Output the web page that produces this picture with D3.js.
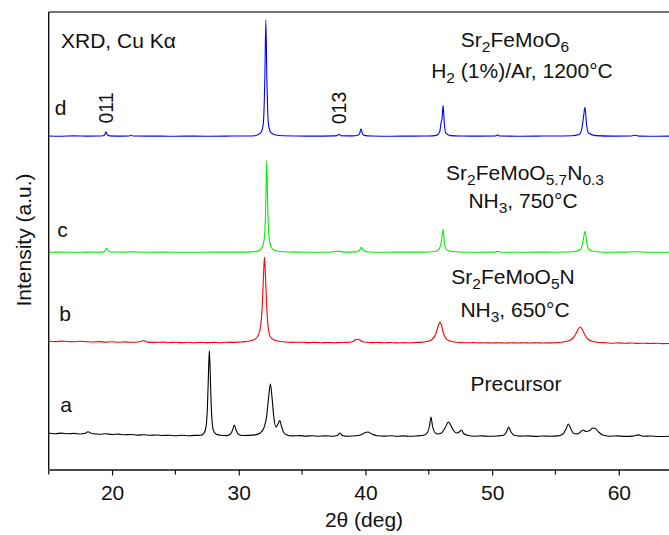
<!DOCTYPE html>
<html>
<head>
<meta charset="utf-8">
<script src="https://cdn.jsdelivr.net/npm/d3@7"></script>
<style>
  body { margin: 0; background: #fff; }
  text { font-family: "Liberation Sans", Arial, sans-serif; fill: #111; }
</style>
</head>
<body>
<div id="chart"></div>
<script>
// 2theta (deg) vs intensity above each pattern's own baseline (a.u.)
const precursor = [[15,3.2],[15.5,2.8],[16,3.4],[16.5,2.7],[17,3.1],[17.5,2.5],[17.9,3.3],[18.1,4.8],[18.4,3.0],[19,2.3],[19.5,2.7],[20,2.0],[20.5,2.4],[21,1.7],[21.5,2.0],[22,1.4],[22.5,1.8],[23,1.2],[23.5,1.5],[24,1.0],[24.5,1.3],[25,0.8],[25.5,1.2],[26,0.7],[26.5,1.1],[27,1.2],[27.2,2.5],[27.35,6],[27.45,13],[27.53,30],[27.6,58],[27.68,86],[27.76,58],[27.83,30],[27.91,13],[28.0,6],[28.2,2.6],[28.6,1.2],[29.0,0.9],[29.3,2],[29.5,6],[29.65,11.5],[29.8,6],[30.0,2],[30.3,1.0],[30.8,1.1],[31.3,1.6],[31.7,3.5],[32.0,9],[32.2,20],[32.35,38],[32.5,52.5],[32.62,40],[32.78,18],[32.95,9.5],[33.1,12.5],[33.24,16],[33.38,10],[33.55,4],[33.8,1.5],[34.2,0.6],[34.8,0.9],[35.3,0.4],[35.8,0.8],[36.3,0.3],[36.8,0.6],[37.4,0.3],[37.8,1.3],[37.98,3.5],[38.2,0.8],[38.7,0.3],[39.2,0.7],[39.7,2.0],[40.0,4.0],[40.2,4.5],[40.5,2.5],[40.9,0.8],[41.5,0.4],[42,0.7],[42.5,0.2],[43,0.6],[43.5,0.2],[44,0.5],[44.6,1.2],[44.9,4],[45.05,10],[45.17,19.5],[45.3,10],[45.45,4.5],[45.7,2.5],[46.0,3.5],[46.3,9],[46.55,14.5],[46.7,12],[46.95,6],[47.2,3.5],[47.45,5],[47.58,6.5],[47.75,3],[48.1,1.0],[48.6,0.3],[49.2,0.6],[49.8,0.2],[50.4,0.5],[50.9,1.2],[51.15,5],[51.3,9.5],[51.47,5],[51.75,1.2],[52.2,0.4],[52.8,0.6],[53.4,0.1],[54,0.5],[54.6,0.2],[55.2,0.6],[55.6,2.5],[55.85,8],[56.02,12.5],[56.2,8],[56.45,3],[56.75,2.6],[57.05,5.5],[57.2,6.5],[57.4,5],[57.7,6],[57.95,8.5],[58.15,8],[58.4,4.5],[58.8,1.2],[59.3,0.3],[59.9,0.6],[60.5,0.1],[61.1,0.4],[61.55,1.6],[61.9,0.3],[62.5,0.5],[63.2,0],[64,0.3]];
const nh3_650 = [[15,1.8],[15.5,1.4],[16,1.9],[16.5,1.5],[17,1.2],[17.5,1.7],[18,1.3],[18.5,1.0],[19,1.4],[19.5,0.9],[20,1.2],[20.5,0.8],[21,1.1],[21.5,0.7],[22,1.0],[22.5,2.2],[22.8,0.9],[23.3,0.6],[24,0.9],[24.5,0.5],[25,0.8],[25.5,0.4],[26,0.7],[26.5,0.3],[27,0.6],[27.5,0.4],[28,0.6],[28.5,0.3],[29,0.7],[29.5,0.6],[30,0.9],[30.5,1.4],[31,2.5],[31.3,4],[31.55,8],[31.72,16],[31.85,36],[31.95,66],[32.03,86],[32.11,66],[32.21,36],[32.34,14],[32.5,6],[32.8,3],[33.2,1.8],[33.7,1.0],[34.2,0.6],[35,0.8],[35.5,0.4],[36,0.6],[36.5,0.3],[37,0.5],[37.5,0.2],[38,0.5],[38.5,0.6],[39,1.6],[39.25,3.5],[39.45,3.8],[39.7,1.8],[40.1,0.7],[40.6,0.4],[41,0.6],[41.5,0.2],[42,0.5],[42.5,0.1],[43,0.4],[43.5,0.2],[44,0.5],[44.5,0.9],[45,2],[45.3,4],[45.55,9],[45.75,17],[45.88,21],[46.0,18],[46.15,10],[46.35,4.5],[46.6,2.2],[47,1.0],[47.5,0.4],[48,0.2],[48.5,0.4],[49,0.1],[49.5,0.3],[50,0],[50.5,0.2],[51,0],[51.5,0.3],[52,0],[52.5,0.2],[53,0],[53.5,0.2],[54,0],[54.5,0.1],[55,0.3],[55.5,0.8],[56,2],[56.35,4.5],[56.6,9],[56.8,14],[56.95,16],[57.1,14],[57.3,8.5],[57.55,4],[57.9,1.8],[58.3,0.8],[59,0.2],[59.5,-0.2],[60,0.1],[60.5,-0.3],[61,0],[61.5,-0.4],[62,-0.2],[62.5,-0.5],[63,-0.3],[63.5,-0.6],[64,-0.5]];
const nh3_750 = [[15,0],[16,0.2],[17,0],[18,0.2],[19,0.1],[19.35,0.4],[19.47,1.8],[19.58,4],[19.7,1.5],[19.9,0.3],[21,0.2],[21.5,0.4],[22.5,0.1],[24,0.2],[25.5,0],[27,0.1],[28.5,0.2],[30,0.2],[31,0.4],[31.5,1.2],[31.78,3.5],[31.95,9],[32.05,18],[32.13,46],[32.21,92],[32.29,46],[32.37,18],[32.47,9],[32.64,3.5],[33,1.3],[33.6,0.5],[34.5,0.2],[36,0.1],[37.4,0.3],[37.88,1.2],[38.2,0.2],[39.2,0.4],[39.52,1.8],[39.68,5],[39.85,1.5],[40.2,0.3],[41.5,0.1],[43,0.2],[44.5,0.2],[45.5,0.8],[45.82,3.5],[45.96,9],[46.03,14],[46.13,23],[46.23,10],[46.36,3.2],[46.8,0.8],[47.5,0.3],[49,0.1],[50.25,0.2],[50.45,0.9],[50.7,0.1],[52,0],[53.5,0.2],[55,0.1],[56.4,0.5],[56.95,2.5],[57.16,10],[57.33,21],[57.48,9],[57.66,2.5],[58.2,0.6],[59.5,0.1],[60.5,0.2],[61.3,0.5],[62.5,0],[64,0.1]];
const h2_1200 = [[15,0.2],[16,0],[17,0.3],[18,0.1],[19,0.2],[19.3,0.4],[19.43,1.6],[19.52,4.5],[19.62,1.5],[19.8,0.3],[20.8,0.1],[21.35,0.2],[21.5,1.0],[21.65,0.2],[23,0.1],[24.5,0],[26,0.1],[27.5,0],[29,0.1],[30.5,0.2],[31.3,0.5],[31.74,3.5],[31.9,9],[31.98,21],[32.06,58],[32.14,116],[32.22,58],[32.3,21],[32.38,9],[32.54,3.5],[32.9,1.2],[33.5,0.4],[34.5,0.2],[36,0.1],[37.4,0.3],[37.75,0.6],[37.9,2],[38.05,0.5],[39,0.3],[39.45,1.2],[39.56,3.5],[39.65,7.5],[39.75,3],[39.9,0.8],[40.5,0.2],[42,0],[43.5,0.1],[45,0.2],[45.6,0.8],[45.85,4],[45.98,14],[46.05,18],[46.13,31],[46.23,12],[46.35,3],[46.7,0.6],[47.5,0.2],[49,0.1],[50.25,0.2],[50.42,1.2],[50.6,0.2],[52,0],[53.5,0.1],[55,0.2],[56.3,0.4],[56.9,2],[57.1,9],[57.22,20],[57.33,29],[57.45,12],[57.62,3],[58.2,0.6],[59.5,0.1],[61,0.2],[61.3,1],[61.6,0.1],[63,0],[64,0.1]];

const patterns = [precursor, nh3_650, nh3_750, h2_1200];
const offsets = [33, 126.5, 217.2, 333.3];
const colors = ["#000000", "#ff0000", "#00ee00", "#0000ff"];
const letters = ["a", "b", "c", "d"];
const xTicks = [20, 30, 40, 50, 60];
const xMinorTicks = [15, 25, 35, 45, 55];

const width = 669, height = 535;
const plotLeft = 48.7, plotTop = 12, plotBottom = 469.5;
const fs = 21;

const svg = d3.select("#chart").append("svg")
    .attr("width", width)
    .attr("height", height);

const x = d3.scaleLinear().domain([15, 64]).range([plotLeft, 669.5]);
const y = d3.scaleLinear().domain([0, plotBottom - plotTop]).range([plotBottom, plotTop]);

// traces
const line = d3.line()
    .x(d => x(d[0]))
    .y(d => d.yv)
    .curve(d3.curveMonotoneX);

patterns.forEach(function(p, i) {
    const pts = p.map(d => { const o = [d[0], d[1]]; o.yv = y(d[1] + offsets[i]); return o; });
    svg.append("path")
        .attr("d", line(pts))
        .attr("fill", "none")
        .attr("stroke", colors[i])
        .attr("stroke-width", 1.1)
        .attr("stroke-linejoin", "round");
});

// axes
svg.append("line")
    .attr("x1", plotLeft).attr("x2", width)
    .attr("y1", plotTop).attr("y2", plotTop)
    .attr("stroke", "#444").attr("stroke-width", 1.4);
svg.append("line")
    .attr("x1", plotLeft).attr("x2", plotLeft)
    .attr("y1", plotTop).attr("y2", plotBottom)
    .attr("stroke", "#111").attr("stroke-width", 1.4);

const xAxis = svg.append("g")
    .attr("transform", "translate(0," + plotBottom + ")")
    .call(d3.axisBottom(x).tickValues(xTicks).tickSize(6).tickSizeOuter(0).tickPadding(10));
xAxis.select(".domain").attr("stroke", "#111").attr("stroke-width", 1.4);
xAxis.selectAll(".tick line").attr("stroke", "#111").attr("stroke-width", 1.2);
xAxis.selectAll(".tick text")
    .attr("font-size", fs)
    .attr("font-family", "Liberation Sans, Arial, sans-serif")
    .attr("fill", "#111");

xAxis.selectAll(".minor")
    .data(xMinorTicks)
    .enter().append("line")
    .attr("class", "minor")
    .attr("x1", d => x(d)).attr("x2", d => x(d))
    .attr("y1", 0).attr("y2", 5)
    .attr("stroke", "#111").attr("stroke-width", 1.2);

svg.append("text")
    .attr("x", 364).attr("y", 527)
    .attr("text-anchor", "middle")
    .attr("font-size", fs)
    .text("2θ (deg)");

svg.append("text")
    .attr("transform", "translate(31,240) rotate(-90)")
    .attr("text-anchor", "middle")
    .attr("font-size", fs)
    .text("Intensity (a.u.)");

// pattern letters
const letterPos = [[66, 411.5], [65, 320.5], [62.5, 236.5], [60.5, 114.5]];
letters.forEach(function(l, i) {
    svg.append("text")
        .attr("x", letterPos[i][0]).attr("y", letterPos[i][1])
        .attr("text-anchor", "middle")
        .attr("font-size", fs)
        .text(l);
});

svg.append("text")
    .attr("x", 61).attr("y", 48)
    .attr("font-size", fs)
    .text("XRD, Cu Kα");

// reflection labels
[["011", 19.52], ["013", 37.9]].forEach(function(r) {
    svg.append("text")
        .attr("transform", "translate(" + (x(r[1]) + 7.5) + ",108) rotate(-90)")
        .attr("text-anchor", "middle")
        .attr("font-size", 19.5)
        .text(r[0]);
});

// sample annotations: [text, isSubscript]
function rich(cx, by, parts) {
    const t = svg.append("text")
        .attr("x", cx).attr("y", by)
        .attr("text-anchor", "middle")
        .attr("font-size", fs);
    let shifted = false;
    parts.forEach(function(p) {
        const s = t.append("tspan").text(p[0]);
        if (p[1] && !shifted) { s.attr("dy", 5).attr("font-size", 15.5); shifted = true; }
        else if (p[1]) { s.attr("font-size", 15.5); }
        else if (shifted) { s.attr("dy", -5); shifted = false; }
    });
}

rich(515, 47, [["Sr"], ["2", 1], ["FeMoO"], ["6", 1]]);
rich(522, 78, [["H"], ["2", 1], [" (1%)/Ar, 1200°C"]]);
rich(525, 180, [["Sr"], ["2", 1], ["FeMoO"], ["5.7", 1], ["N"], ["0.3", 1]]);
rich(523, 208, [["NH"], ["3", 1], [", 750°C"]]);
rich(513, 283.5, [["Sr"], ["2", 1], ["FeMoO"], ["5", 1], ["N"]]);
rich(515, 316.5, [["NH"], ["3", 1], [", 650°C"]]);
rich(516, 391, [["Precursor"]]);
</script>
</body>
</html>
